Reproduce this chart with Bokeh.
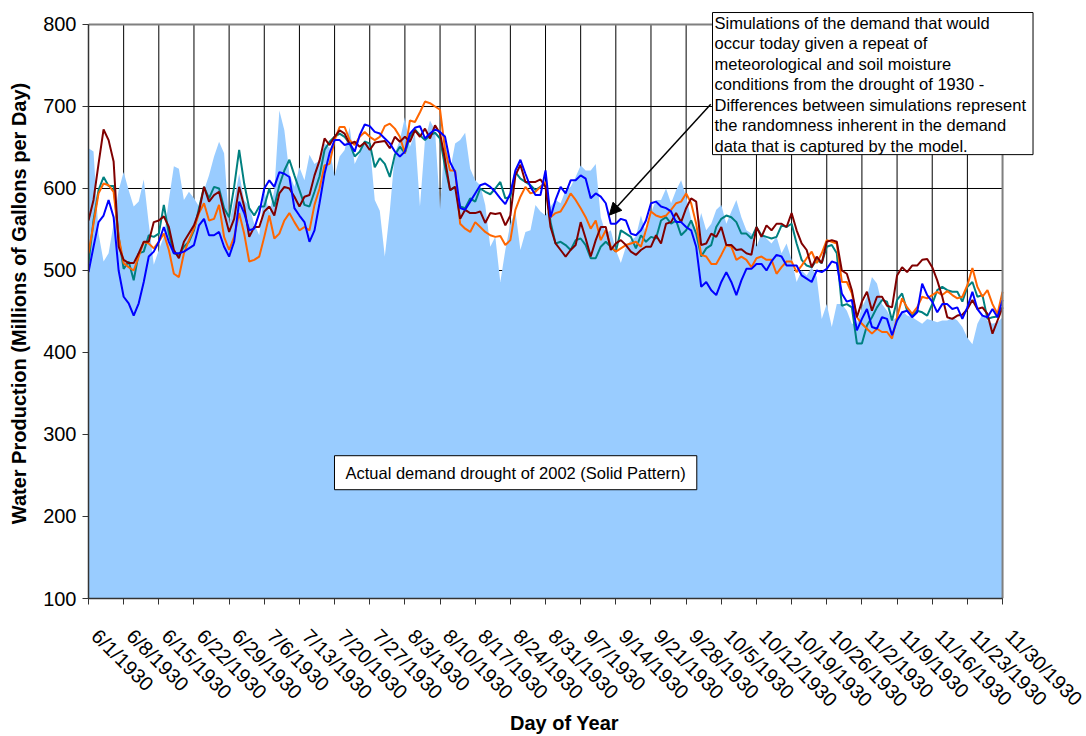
import math
import pandas as pd
from bokeh.plotting import figure
from bokeh.models import FixedTicker, Label, Arrow, NormalHead, Range1d, LinearAxis
from bokeh.embed import file_html
from bokeh.resources import INLINE

# ---------------- data ----------------
start_date = "6/1/1930"
n_days = 183

tick_labels = ["6/1/1930", "6/8/1930", "6/15/1930", "6/22/1930", "6/29/1930",
               "7/6/1930", "7/13/1930", "7/20/1930", "7/27/1930", "8/3/1930",
               "8/10/1930", "8/17/1930", "8/24/1930", "8/31/1930", "9/7/1930",
               "9/14/1930", "9/21/1930", "9/28/1930", "10/5/1930", "10/12/1930",
               "10/19/1930", "10/26/1930", "11/2/1930", "11/9/1930", "11/16/1930",
               "11/23/1930", "11/30/1930"]

y_ticks = [100, 200, 300, 400, 500, 600, 700, 800]

# Actual demand, drought of 2002 (filled area)
actual_2002 = [
    649, 645, 545, 511, 521, 557, 598, 620, 598, 578, 584, 611, 557, 507, 525, 541, 586, 627, 624, 586,
    596, 588, 578, 598, 616, 639, 657, 643, 557, 586, 618, 586, 578, 557, 543, 598, 570, 598, 695, 671,
    618, 602, 626, 610, 641, 630, 634, 655, 650, 615, 639, 647, 675, 630, 643, 659, 655, 586, 573, 517,
    573, 643, 659, 687, 651, 667, 578, 659, 683, 671, 575, 667, 622, 655, 659, 668, 624, 610, 604, 580,
    529, 541, 486, 525, 557, 573, 525, 547, 549, 580, 572, 567, 578, 586, 582, 598, 602, 614, 628, 622,
    622, 630, 565, 545, 549, 525, 509, 529, 537, 541, 567, 545, 570, 586, 586, 600, 582, 598, 610, 590,
    563, 545, 570, 549, 557, 574, 580, 557, 572, 586, 565, 549, 545, 529, 545, 539, 533, 541, 521, 533,
    513, 486, 500, 494, 504, 492, 441, 459, 431, 459, 459, 451, 435, 435, 455, 468, 492, 484, 459, 451,
    439, 443, 451, 445, 443, 439, 435, 441, 439, 437, 439, 439, 443, 439, 431, 418, 410, 435, 447, 439,
    435, 437, 443]

sim_blue = [
    498, 529, 559, 567, 586, 565, 500, 468, 460, 445, 460, 486, 517, 523, 535, 553, 535, 521, 521, 523,
    527, 531, 555, 563, 543, 543, 547, 529, 517, 535, 584, 570, 549, 551, 570, 600, 610, 602, 620, 618,
    614, 576, 567, 559, 535, 549, 582, 618, 643, 659, 659, 653, 655, 645, 665, 678, 676, 669, 667, 661,
    655, 645, 639, 645, 667, 674, 676, 661, 667, 672, 669, 663, 632, 620, 576, 574, 584, 594, 604, 606,
    602, 596, 588, 581, 594, 622, 635, 618, 602, 592, 592, 622, 565, 586, 602, 594, 610, 610, 616, 612,
    588, 594, 590, 582, 557, 557, 563, 561, 545, 543, 549, 561, 582, 584, 578, 576, 572, 559, 559, 553,
    549, 529, 480, 486, 476, 470, 486, 498, 486, 470, 488, 502, 502, 508, 508, 500, 511, 519, 517, 506,
    506, 506, 494, 490, 486, 500, 498, 502, 511, 509, 472, 462, 464, 427, 441, 453, 431, 429, 443, 441,
    421, 439, 449, 451, 443, 449, 484, 470, 462, 449, 459, 459, 453, 455, 441, 455, 474, 453, 445, 443,
    453, 443, 464]

sim_orange = [
    521, 557, 594, 606, 604, 596, 541, 509, 504, 500, 517, 535, 533, 527, 535, 545, 525, 496, 492, 521,
    537, 551, 570, 582, 561, 563, 580, 541, 525, 541, 570, 545, 511, 513, 517, 541, 567, 539, 545, 561,
    570, 559, 549, 553, 549, 580, 600, 628, 630, 659, 675, 675, 659, 653, 663, 669, 663, 659, 663, 676,
    679, 673, 663, 643, 683, 681, 693, 706, 704, 700, 696, 647, 622, 622, 557, 551, 547, 559, 553, 547,
    543, 541, 542, 531, 537, 574, 590, 602, 594, 596, 602, 608, 565, 570, 572, 582, 594, 586, 576, 565,
    551, 561, 537, 549, 529, 523, 527, 531, 533, 535, 529, 549, 572, 567, 565, 567, 574, 582, 584, 594,
    582, 557, 519, 517, 508, 508, 519, 531, 529, 513, 517, 513, 504, 515, 517, 513, 513, 496, 504, 511,
    511, 498, 506, 515, 523, 509, 521, 537, 535, 533, 486, 486, 472, 443, 435, 429, 423, 429, 425, 425,
    417, 443, 466, 455, 447, 455, 468, 466, 470, 474, 470, 475, 470, 466, 468, 482, 503, 480, 468, 476,
    459, 447, 474]

sim_teal = [
    509, 561, 598, 614, 603, 603, 541, 502, 511, 488, 521, 523, 543, 541, 545, 580, 545, 521, 519, 529,
    535, 549, 576, 602, 588, 602, 600, 576, 565, 602, 647, 606, 576, 567, 578, 578, 600, 578, 604, 622,
    635, 616, 598, 580, 578, 596, 615, 647, 657, 663, 667, 663, 655, 639, 645, 657, 655, 626, 637, 630,
    614, 641, 651, 643, 663, 672, 665, 659, 665, 668, 661, 626, 598, 602, 578, 576, 588, 584, 600, 596,
    593, 600, 608, 588, 590, 620, 612, 608, 604, 598, 602, 606, 559, 533, 535, 531, 525, 537, 539, 531,
    515, 515, 529, 535, 529, 523, 549, 545, 541, 527, 543, 535, 541, 539, 561, 565, 557, 561, 543, 549,
    561, 545, 517, 527, 531, 553, 563, 567, 565, 559, 545, 545, 539, 553, 543, 541, 539, 541, 555, 553,
    557, 533, 513, 506, 504, 513, 509, 529, 531, 521, 457, 459, 455, 411, 411, 433, 443, 455, 464, 462,
    439, 464, 472, 451, 445, 451, 449, 445, 459, 476, 480, 476, 474, 474, 462, 480, 486, 468, 470, 441,
    443, 444, 455]

sim_maroon = [
    561, 586, 630, 672, 659, 633, 529, 513, 509, 509, 521, 535, 535, 559, 561, 566, 553, 525, 515, 535,
    545, 555, 572, 602, 584, 592, 596, 570, 547, 563, 602, 578, 541, 553, 553, 572, 578, 567, 594, 602,
    600, 590, 578, 590, 592, 616, 634, 661, 653, 663, 671, 667, 654, 657, 651, 656, 647, 656, 657, 658,
    649, 663, 657, 663, 657, 671, 663, 673, 661, 677, 667, 635, 598, 602, 563, 574, 570, 570, 572, 558,
    570, 569, 570, 555, 567, 616, 629, 608, 608, 608, 611, 602, 553, 533, 525, 517, 525, 531, 559, 539,
    517, 537, 553, 553, 525, 533, 537, 531, 523, 519, 525, 529, 529, 543, 533, 557, 559, 570, 559, 576,
    588, 584, 531, 533, 545, 541, 553, 531, 531, 525, 526, 521, 519, 553, 541, 555, 549, 557, 557, 553,
    570, 549, 533, 525, 504, 517, 509, 535, 537, 535, 500, 496, 476, 443, 462, 474, 451, 468, 468, 457,
    455, 494, 504, 498, 506, 506, 513, 514, 504, 488, 468, 443, 441, 445, 446, 453, 464, 453, 455, 447,
    423, 439, 455]

note_actual = "Actual demand drought of 2002 (Solid Pattern)"
note_sim = ("Simulations of the demand that would\n"
            "occur today given a repeat of\n"
            "meteorological and soil moisture\n"
            "conditions from the drought of 1930 -\n"
            "Differences between simulations represent\n"
            "the randomness inherent in the demand\n"
            "data that is captured by the model.")

# ---------------- derived positions ----------------
t0 = pd.to_datetime(start_date, format="%m/%d/%Y")
days = list(range(n_days))
tick_days = [int((pd.to_datetime(s, format="%m/%d/%Y") - t0).days) for s in tick_labels]
last_day = days[-1]
y_lo, y_hi = y_ticks[0], y_ticks[-1]

FONT = "Liberation Sans"
LABEL_SHIFT = 1.3   # rotated date labels start slightly right of their tick

# frame is a little wider/taller than the data area so the note box can overhang it
p = figure(width=1086, height=736,
           x_range=Range1d(0, 189.56), y_range=Range1d(y_lo, 819.5),
           output_backend="svg", toolbar_location=None,
           min_border_left=88, min_border_right=46,
           min_border_top=8, min_border_bottom=137)
p.background_fill_color = "white"
p.border_fill_color = "white"
p.outline_line_color = None
p.xgrid.visible = False
p.ygrid.visible = False

# grid lines (behind the area)
p.segment(x0=tick_days, y0=[y_lo] * len(tick_days), x1=tick_days, y1=[y_hi] * len(tick_days),
          line_color="black", line_width=1)
p.segment(x0=[0] * len(y_ticks), y0=y_ticks, x1=[last_day] * len(y_ticks), y1=y_ticks,
          line_color="black", line_width=1)

# area
p.varea(x=days, y1=y_lo, y2=actual_2002, fill_color="#99CCFF", fill_alpha=1.0)

# simulation lines
for series, col in [(sim_teal, "#008080"), (sim_orange, "#FF6600"),
                    (sim_maroon, "#800000"), (sim_blue, "#0000FF")]:
    p.line(days, series, line_color=col, line_width=2)

# plot-area border (top and right)
p.segment(x0=[0, last_day], y0=[y_hi, y_lo], x1=[last_day, last_day], y1=[y_hi, y_hi],
          line_color="#808080", line_width=2)

# main x axis: line and ticks only (its labels are not drawn)
xax = p.xaxis[0]
xax.ticker = FixedTicker(ticks=tick_days)
xax.bounds = (0, last_day)
xax.major_label_text_font_size = "0px"
xax.major_label_text_color = None
xax.major_label_standoff = 0

yax = p.yaxis[0]
yax.ticker = FixedTicker(ticks=y_ticks)
yax.bounds = (y_lo, y_hi)

for ax in (xax, yax):
    ax.minor_tick_line_color = None
    ax.major_tick_in = 0
    ax.major_tick_out = 6
    ax.major_tick_line_color = "#333333"
    ax.axis_line_color = "#333333"
    ax.axis_line_width = 1.5
yax.major_label_text_font = FONT
yax.major_label_text_font_size = "20px"
yax.major_label_text_color = "black"
yax.axis_label = "Water Production (Millions of Gallons per Day)"
yax.axis_label_text_font = FONT
yax.axis_label_text_font_size = "20px"
yax.axis_label_text_font_style = "bold"
yax.axis_label_text_color = "black"
yax.major_label_standoff = 6
yax.axis_label_standoff = 10

# date labels + axis title (separate axis so labels sit just right of their tick)
lab_pos = [d + LABEL_SHIFT for d in tick_days]
lab_axis = LinearAxis(ticker=FixedTicker(ticks=lab_pos),
                      major_label_overrides={d: s for d, s in zip(lab_pos, tick_labels)},
                      major_label_orientation=-math.pi / 4,
                      axis_line_color=None, major_tick_line_color=None,
                      minor_tick_line_color=None, major_tick_in=0, major_tick_out=0,
                      major_label_text_font=FONT, major_label_text_font_size="20px",
                      major_label_text_color="black", major_label_standoff=28,
                      axis_label="Day of Year", axis_label_text_font=FONT,
                      axis_label_text_font_size="20px", axis_label_text_font_style="bold",
                      axis_label_text_color="black", axis_label_standoff=-10)
p.add_layout(lab_axis, "below")

# annotation: actual demand box
p.add_layout(Label(x=48.98, y=253.4, text=note_actual,
                   text_font=FONT, text_font_size="16.5px", text_color="black",
                   text_align="left", text_baseline="middle",
                   background_fill_color="white", background_fill_alpha=1.0,
                   border_line_color="black", border_line_width=1,
                   padding=dict(left=11, right=11, top=8, bottom=8)))

# annotation: simulations box
p.add_layout(Label(x=124.25, y=814.6, text=note_sim,
                   text_font=FONT, text_font_size="16.5px", text_color="black",
                   text_align="left", text_baseline="top",
                   text_line_height=1.14,
                   background_fill_color="white", background_fill_alpha=1.0,
                   border_line_color="black", border_line_width=1,
                   padding=dict(left=2, right=7, top=1, bottom=0)))

# arrow from the simulations note to the curves
p.add_layout(Arrow(end=NormalHead(size=12, fill_color="black", line_color="black"),
                   x_start=123.9, y_start=702.6, x_end=103.7, y_end=567.5,
                   line_color="black", line_width=1.5))

open("out.html", "w").write(file_html(p, INLINE))
